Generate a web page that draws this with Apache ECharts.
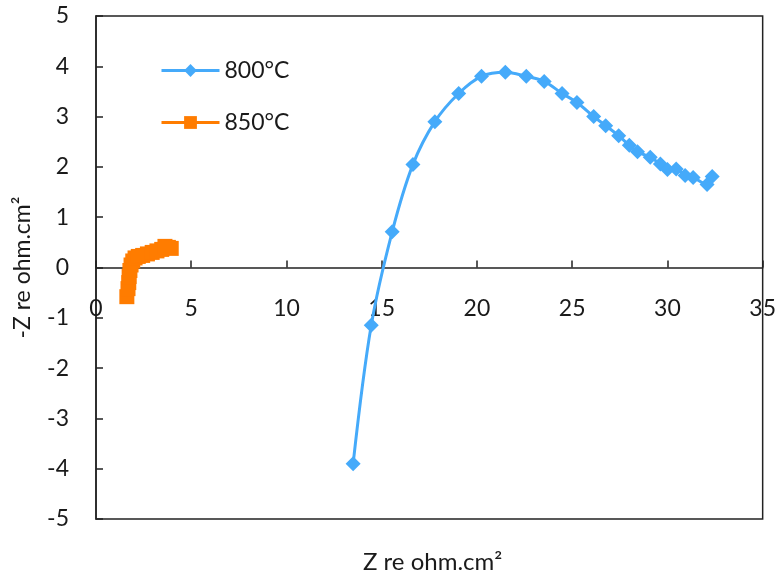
<!DOCTYPE html>
<html>
<head>
<meta charset="utf-8">
<script src="https://cdn.jsdelivr.net/npm/echarts@6/dist/echarts.min.js"></script>
<style>
  html, body { margin: 0; padding: 0; background: #fff; }
  #chart { width: 779px; height: 581px; }
</style>
</head>
<body>
<div id="chart"></div>
<script>
// 800°C 阻抗数据 [Z re, -Z im]
const z800Re = [13.5, 14.45, 15.55, 16.64, 17.79, 19.04, 20.24, 21.49, 22.59, 23.53, 24.47,
  25.25, 26.13, 26.76, 27.44, 28.0, 28.43, 29.1, 29.63, 30.0, 30.46, 30.93, 31.35, 32.08, 32.35];
const z800Im = [-3.9, -1.15, 0.71, 2.05, 2.9, 3.46, 3.8, 3.88, 3.8, 3.7, 3.46,
  3.28, 3.0, 2.82, 2.62, 2.43, 2.3, 2.19, 2.06, 1.95, 1.96, 1.83, 1.79, 1.65, 1.81];
// 850°C
const z850Re = [1.62, 1.68, 1.72, 1.74, 1.78, 1.84, 1.93, 2.05, 2.22, 2.45, 2.7, 2.95, 3.2, 3.45, 3.62, 3.8, 3.95];
const z850Im = [-0.58, -0.42, -0.3, -0.18, -0.06, 0.05, 0.13, 0.19, 0.22, 0.24, 0.27, 0.3, 0.33, 0.36, 0.42, 0.4, 0.38];

const xTicks = [0, 35, 5];
const yTicks = [-5, 5, 1];

const pair = (xs, ys) => xs.map((x, i) => [x, ys[i]]);
const font = "Lato, 'Open Sans', sans-serif";
const fs = 23;

const myChart = echarts.init(document.getElementById("chart"));
myChart.setOption({
  animation: false,
  textStyle: { fontFamily: font },
  title: {
    text: "Z re ohm.cm²",
    left: 363,
    top: 550,
    padding: 0,
    textStyle: { fontSize: 24, fontWeight: "normal", color: "#1a1a1a", fontFamily: font },
  },
  grid: {
    left: 96, right: 13, top: 16, bottom: 62,
    show: true, borderColor: "#222", borderWidth: 1.5,
  },
  legend: {
    orient: "vertical",
    left: 160, top: 59,
    padding: 0,
    itemWidth: 58, itemHeight: 16, itemGap: 29,
    lineStyle: { width: 3 },
    textStyle: { fontSize: fs, color: "#1a1a1a", fontFamily: font },
    data: ["800°C", "850°C"],
  },
  xAxis: [
    {
      // 零线上的轴线和刻度
      type: "value",
      min: xTicks[0], max: xTicks[1], interval: xTicks[2],
      axisLine: { onZero: true, lineStyle: { color: "#222", width: 1.5 } },
      axisTick: { inside: true, length: 7, lineStyle: { color: "#222", width: 1.5 } },
      axisLabel: { show: false },
      splitLine: { show: false },
    },
    {
      // 刻度文字，放在零线下方
      type: "value",
      position: "bottom",
      offset: -251,
      min: xTicks[0], max: xTicks[1], interval: xTicks[2],
      axisLine: { show: false, onZero: false },
      axisTick: { show: false },
      axisLabel: { fontSize: fs, color: "#1a1a1a", margin: 29 },
      splitLine: { show: false },
    },
  ],
  yAxis: {
    type: "value",
    name: "-Z re ohm.cm²",
    nameLocation: "middle",
    nameGap: 62,
    nameTextStyle: { fontSize: fs, color: "#1a1a1a" },
    min: yTicks[0], max: yTicks[1], interval: yTicks[2],
    axisLine: { onZero: false, lineStyle: { color: "#222", width: 1.5 } },
    axisTick: { inside: true, length: 7, lineStyle: { color: "#222", width: 1.5 } },
    axisLabel: { fontSize: fs, color: "#1a1a1a", margin: 27 },
    splitLine: { show: false },
  },
  series: [
    {
      name: "800°C",
      type: "line",
      data: pair(z800Re, z800Im),
      smooth: 0.35,
      symbol: "diamond",
      symbolSize: 15,
      itemStyle: { color: "#45AAFA" },
      lineStyle: { color: "#45AAFA", width: 3 },
    },
    {
      name: "850°C",
      type: "line",
      data: pair(z850Re, z850Im),
      smooth: 0.3,
      symbol: "rect",
      symbolSize: 15,
      itemStyle: { color: "#FF7C00" },
      lineStyle: { color: "#FF7C00", width: 3 },
    },
  ],
});
</script>
</body>
</html>
